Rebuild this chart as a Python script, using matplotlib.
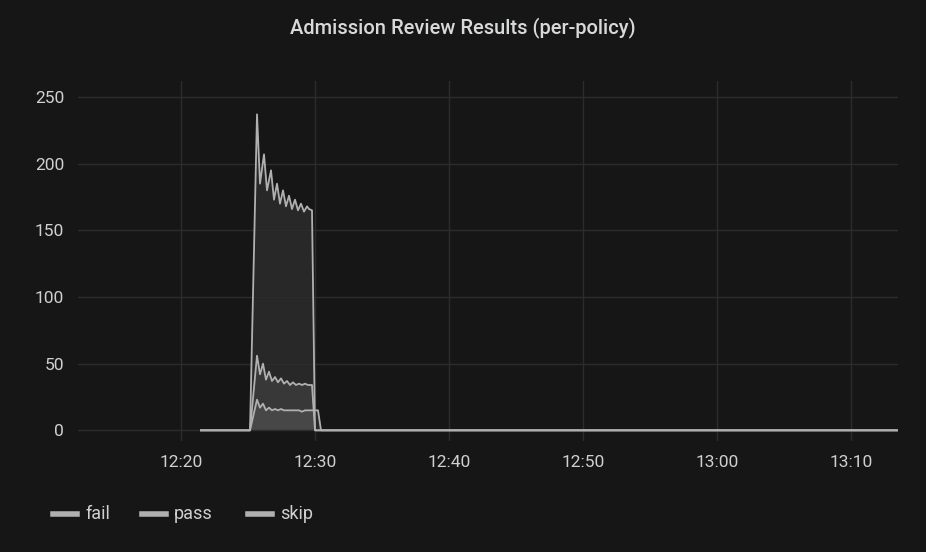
import matplotlib
matplotlib.use("Agg")
import matplotlib.pyplot as plt
import matplotlib.dates as mdates
import datetime as dt

plt.rcParams['font.family'] = ['Roboto', 'DejaVu Sans']
base = dt.datetime(2024, 1, 1, 12, 20)
def px2t(p):
    return base + dt.timedelta(minutes=(p - 181) / 13.4)

fail_px = [201, 250, 257, 260, 264, 267, 271, 274, 277, 280, 283, 286, 289, 292, 295, 298, 301, 304, 307, 309, 312, 315, 897]
fail_v  = [0, 0, 237, 185, 207, 180, 195, 173, 185, 170, 180, 168, 176, 166, 173, 165, 170, 164, 168, 166, 165, 0, 0]
pass_px = [201, 250, 257, 260, 263, 266, 269, 272, 275, 278, 281, 284, 287, 290, 293, 296, 299, 302, 305, 308, 312, 315, 897]
pass_v  = [0, 0, 56, 42, 50, 38, 44, 37, 40, 36, 39, 35, 37, 34, 36, 34, 35, 34, 35, 34, 34, 0, 0]
skip_px = [201, 250, 257, 260, 263, 266, 269, 272, 275, 278, 281, 284, 287, 290, 293, 296, 299, 302, 305, 308, 312, 314, 318, 321, 897]
skip_v  = [0, 0, 23, 17, 20, 15, 17, 15, 16, 15, 16, 15, 15, 15, 15, 15, 15, 14, 15, 15, 15, 15, 15, 0, 0]

bg = "#161616"
fig = plt.figure(figsize=(9.26, 5.52), dpi=100, facecolor=bg)
ax = fig.add_axes([78/926, 1-441/552, 820/926, 360/552], facecolor=bg)
col = "#b0b0b0"
for px, v in [(fail_px, fail_v), (pass_px, pass_v), (skip_px, skip_v)]:
    t = [px2t(p) for p in px]
    ax.plot(t, v, color=col, lw=1.3)
    ax.fill_between(t, v, color="#ffffff", alpha=0.08, lw=0)

ax.set_xlim(px2t(78), px2t(898))
ax.set_ylim(-8, 262)
ax.set_yticks([0, 50, 100, 150, 200, 250])
ax.xaxis.set_major_locator(mdates.MinuteLocator(byminute=[0, 10, 20, 30, 40, 50]))
ax.xaxis.set_major_formatter(mdates.DateFormatter("%H:%M"))
ax.grid(True, color="#2c2c2c", lw=1)
for s in ax.spines.values():
    s.set_visible(False)
ax.tick_params(colors="#cfd0d2", labelsize=12.5, length=0, pad=10)
fig.text(0.5, 0.95, "Admission Review Results (per-policy)", ha="center", va="center",
         color="#d8d9da", fontsize=14.5, fontweight="medium")
xs = [0.057, 0.153, 0.268]
for x, name in zip(xs, ["fail", "pass", "skip"]):
    fig.add_artist(plt.Line2D([x, x + 0.026], [0.068, 0.068], color=col, lw=4, transform=fig.transFigure))
    fig.text(x + 0.035, 0.068, name, color="#cfd0d2", fontsize=13, va="center")
fig.savefig("out.png", facecolor=bg)
